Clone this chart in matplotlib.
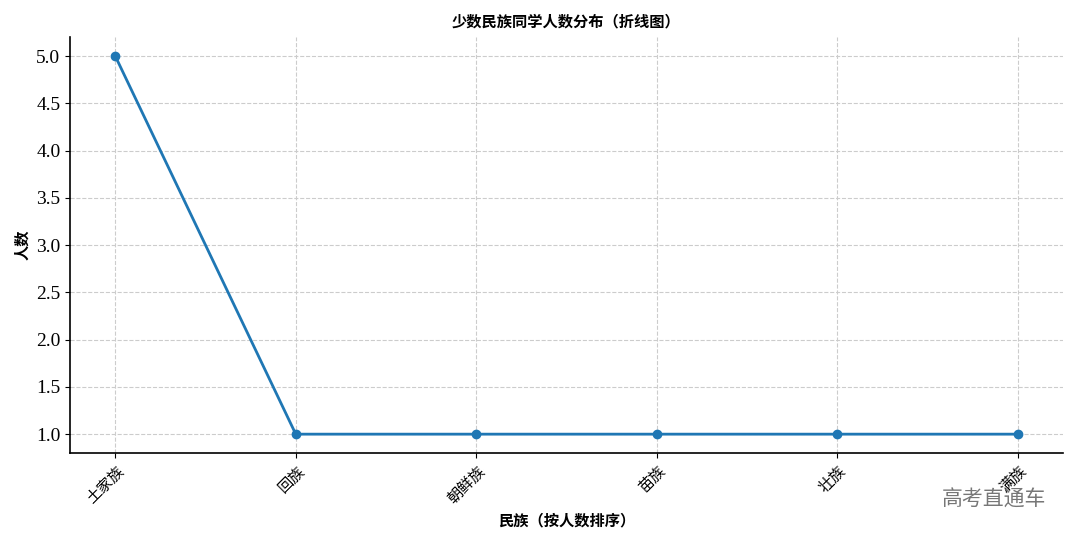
import matplotlib
matplotlib.use("Agg")
import matplotlib.pyplot as plt

plt.rcParams['font.family'] = ['Liberation Serif', 'Noto Sans CJK SC', 'DejaVu Sans']
plt.rcParams['axes.unicode_minus'] = False

groups = ['土家族', '回族', '朝鲜族', '苗族', '壮族', '满族']
counts = [5, 1, 1, 1, 1, 1]

fig = plt.figure(figsize=(10.8, 5.4), dpi=100)
ax = fig.add_axes([0.065, 0.161, 0.919, 0.77])

ax.plot(groups, counts, '-o', color='#1f77b4', linewidth=2, markersize=6)

ax.set_title('少数民族同学人数分布（折线图）', fontsize=11, fontweight='bold',
             family=['Noto Sans CJK SC'], pad=8)
ax.set_xlabel('民族（按人数排序）', fontsize=11, fontweight='bold', family=['Noto Sans CJK SC'])
ax.set_ylabel('人数', fontsize=11, fontweight='bold', family=['Noto Sans CJK SC'])

ax.grid(True, linestyle='--', color='#cccccc', linewidth=0.8)
ax.spines['top'].set_visible(False)
ax.spines['right'].set_visible(False)
ax.spines['left'].set_linewidth(1.2)
ax.spines['bottom'].set_linewidth(1.2)

ax.set_yticks([1.0, 1.5, 2.0, 2.5, 3.0, 3.5, 4.0, 4.5, 5.0])
ax.set_yticklabels([f'{v:.1f}' for v in ax.get_yticks()], fontsize=14)
plt.setp(ax.get_xticklabels(), rotation=45, ha='right', fontsize=11,
         family=['Noto Sans CJK SC'], rotation_mode='anchor')

fig.text(0.92, 0.075, '高考直通车', fontsize=15, color='#777777',
         family=['Noto Sans CJK SC'], ha='center', va='center')

fig.savefig('out.png', dpi=100)
